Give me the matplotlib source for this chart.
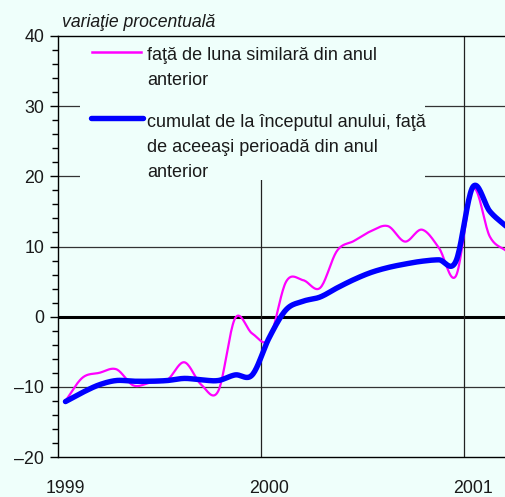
import matplotlib
matplotlib.use("Agg")
import matplotlib.pyplot as plt
from matplotlib.patches import Rectangle
import numpy as np

plt.rcParams['font.family'] = ['Liberation Sans', 'DejaVu Sans']

# monthly data, Jan 1999 .. Mar 2001
months = np.arange(27)
monthly_yoy = [-12.0, -8.7, -8.0, -7.5, -9.8, -9.4, -9.0, -6.5, -9.7, -10.6,
               -0.2, -2.4, -3.2, 5.0, 5.2, 4.1, 9.4, 10.8, 12.2, 12.9,
               10.7, 12.4, 9.8, 5.8, 18.2, 11.4, 9.3]
cumulative = [-12.1, -10.8, -9.7, -9.1, -9.2, -9.2, -9.1, -8.8, -9.0, -9.1,
              -8.3, -8.3, -3.0, 1.0, 2.2, 2.8, 4.1, 5.3, 6.3, 7.0,
              7.5, 7.9, 8.1, 7.9, 18.5, 15.0, 12.8]
year_ticks = [0, 12, 24]
year_labels = ['1999', '2000', '2001']
label_pink = 'faţă de luna similară din anul\nanterior'
label_blue = 'cumulat de la începutul anului, faţă\nde aceeaşi perioadă din anul\nanterior'

bg = '#effffb'


def smooth(x, y, n=20):
    # Catmull-Rom style smoothing, like a spreadsheet "smoothed line"
    x = np.asarray(x, float)
    y = np.asarray(y, float)
    m = np.gradient(y, x)
    xs, ys = [], []
    for i in range(len(x) - 1):
        h = x[i + 1] - x[i]
        t = np.linspace(0, 1, n, endpoint=False)
        h00 = 2 * t**3 - 3 * t**2 + 1
        h10 = t**3 - 2 * t**2 + t
        h01 = -2 * t**3 + 3 * t**2
        h11 = t**3 - t**2
        xs.append(x[i] + t * h)
        ys.append(h00 * y[i] + h10 * h * m[i] + h01 * y[i + 1] + h11 * h * m[i + 1])
    xs.append([x[-1]])
    ys.append([y[-1]])
    return np.concatenate(xs), np.concatenate(ys)


fig = plt.figure(figsize=(5.06, 4.97), dpi=100, facecolor=bg)
ax = fig.add_axes([58 / 506, 40 / 497, 448 / 506, 421 / 497])
ax.set_facecolor(bg)

ax.set_xlim(-0.44, 25.95)
ax.set_ylim(-20, 40)

# grid
for v in [-10, 10, 20, 30]:
    ax.axhline(v, color='#333333', lw=0.9, zorder=1)
ax.axhline(0, color='black', lw=2.2, zorder=1)
for yr in [11.5, 23.5]:
    ax.axvline(yr, color='#222222', lw=0.9, zorder=1)

# legend area hides the grid
ax.add_patch(Rectangle((22 / 448, 1 - 144 / 421), (425 - 80) / 448, 144 / 421,
                       transform=ax.transAxes, facecolor=bg, edgecolor='none', zorder=1.5))

xs, ys = smooth(months, monthly_yoy)
ax.plot(xs, ys, color='#ff00ff', lw=1.6, zorder=3, solid_capstyle='round')
xs, ys = smooth(months, cumulative)
ax.plot(xs, ys, color='#0000ff', lw=3.9, zorder=4, solid_capstyle='round')

# legend
ax.plot([34 / 448, 83 / 448], [405 / 421, 405 / 421], color='#ff00ff', lw=1.8,
        transform=ax.transAxes, zorder=5)
ax.text(89 / 448, 410 / 421, label_pink, transform=ax.transAxes, fontsize=13,
        va='top', ha='left', linespacing=1.62, color='#1a1a1a', zorder=5)
ax.plot([33 / 448, 85 / 448], [339 / 421, 339 / 421], color='#0000ff', lw=3.9,
        transform=ax.transAxes, zorder=5, solid_capstyle='round')
ax.text(89 / 448, 343 / 421, label_blue, transform=ax.transAxes, fontsize=13,
        va='top', ha='left', linespacing=1.62, color='#1a1a1a', zorder=5)

# axes styling
ax.spines['right'].set_visible(False)
for s in ['left', 'top', 'bottom']:
    ax.spines[s].set_linewidth(1.0)
ax.set_yticks(np.arange(-20, 41, 10))
ax.set_yticks(np.arange(-20, 41, 2), minor=True)
ax.tick_params(axis='y', which='major', length=6, width=1, pad=4, labelsize=12.8, labelcolor='#1a1a1a')
ax.tick_params(axis='y', which='minor', length=4, width=1)
ax.set_yticklabels([str(v).replace('-', '\u2013') for v in range(-20, 41, 10)])
ax.set_xticks(year_ticks)
ax.set_xticklabels(year_labels)
ax.tick_params(axis='x', length=0, pad=16.5, labelsize=12.8, labelcolor='#1a1a1a')

fig.text(62 / 506, 1 - 27 / 497, 'variaţie procentuală', fontsize=12.7, style='italic',
         ha='left', va='baseline', color='#1a1a1a')

fig.savefig('out.png', dpi=100, facecolor=bg)
